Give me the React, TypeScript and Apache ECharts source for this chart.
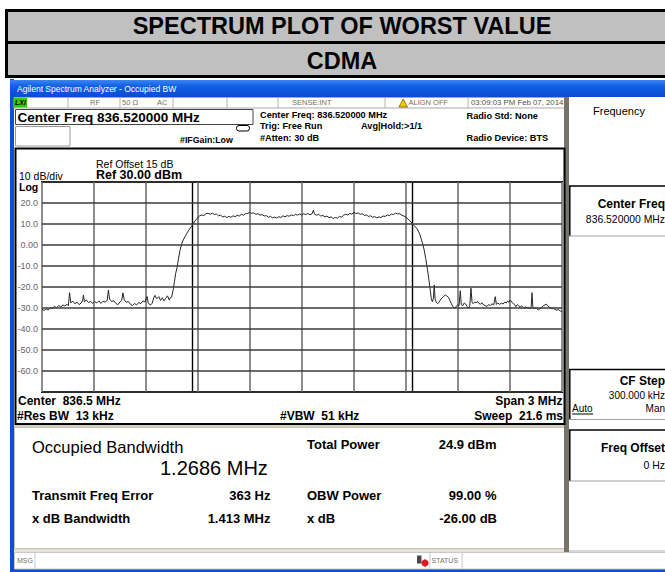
import React, { useEffect, useRef } from "react";
import * as echarts from "echarts";

// ---------- data ----------
const titleRows = ["SPECTRUM PLOT OF WORST VALUE", "CDMA"];
const centerFreqMHz = 836.52;
const spanMHz = 3;
const refLevel = 30;
const dbPerDiv = 10;
const yTickLabels = ["20.0", "10.0", "0.00", "-10.0", "-20.0", "-30.0", "-40.0", "-50.0", "-60.0"];
const obwMHz = 1.2686;
const freqErrorHz = 363;

// trace: [offset from centre (MHz), level (dBm)]
const traceLowNoise: [number, number][] = [
  [-1.5, -30.6], [-1.488, -31.2], [-1.476, -30.4], [-1.464, -31.0], [-1.452, -29.8], [-1.44, -30.3],
  [-1.428, -29.2], [-1.416, -29.9], [-1.404, -28.8], [-1.392, -29.5], [-1.38, -28.6], [-1.368, -29.0],
  [-1.356, -28.2], [-1.348, -28.9], [-1.341, -22.7], [-1.334, -27.5], [-1.322, -26.8], [-1.31, -28.0],
  [-1.298, -27.2], [-1.286, -28.4], [-1.274, -27.6], [-1.266, -26.5], [-1.261, -23.8], [-1.256, -27.0],
  [-1.244, -26.2], [-1.232, -27.4], [-1.22, -26.8], [-1.208, -27.9], [-1.196, -26.9], [-1.184, -27.6],
  [-1.172, -26.6], [-1.16, -27.8], [-1.148, -26.8], [-1.136, -27.2], [-1.124, -26.4], [-1.117, -21.4],
  [-1.11, -25.8], [-1.098, -27.0], [-1.086, -26.5], [-1.074, -27.8], [-1.062, -28.4], [-1.05, -27.1],
  [-1.04, -26.3], [-1.033, -22.8], [-1.026, -26.0], [-1.014, -27.3], [-1.002, -26.9], [-0.99, -28.2],
  [-0.978, -28.8], [-0.966, -27.9], [-0.954, -28.5], [-0.942, -27.4], [-0.93, -27.9], [-0.918, -26.6],
  [-0.906, -27.1], [-0.894, -24.5], [-0.888, -27.5], [-0.876, -28.6], [-0.864, -27.8], [-0.856, -25.2],
  [-0.848, -24.0], [-0.838, -25.6], [-0.826, -24.6], [-0.816, -26.4], [-0.806, -25.1], [-0.796, -26.6],
  [-0.786, -25.4], [-0.776, -24.2], [-0.766, -26.2], [-0.758, -25.0], [-0.752, -24.8],
];
const traceLowSkirt: [number, number][] = [
  [-0.743, -21.2], [-0.736, -17.5], [-0.729, -13.6], [-0.721, -10.8], [-0.713, -6.8], [-0.704, -2.6],
  [-0.694, 0.6], [-0.683, 2.8], [-0.672, 4.4], [-0.66, 6.2], [-0.648, 7.7], [-0.636, 9.0], [-0.626, 10.4],
];
const traceChannel: [number, number][] = [
  [-0.616, 11.6], [-0.6, 13.2], [-0.59, 13.9], [-0.578, 14.3], [-0.566, 14.0], [-0.554, 14.9], [-0.542, 15.1],
  [-0.53, 14.6], [-0.518, 15.2], [-0.506, 14.5], [-0.494, 14.8], [-0.482, 13.9], [-0.47, 14.2], [-0.458, 13.4],
  [-0.446, 13.7], [-0.434, 13.1], [-0.422, 13.6], [-0.41, 13.2], [-0.398, 13.9], [-0.386, 13.5], [-0.374, 14.1],
  [-0.362, 13.8], [-0.35, 14.6], [-0.338, 14.2], [-0.326, 14.9], [-0.314, 15.0], [-0.302, 15.5], [-0.29, 15.1],
  [-0.278, 15.3], [-0.266, 14.6], [-0.254, 14.9], [-0.242, 14.2], [-0.23, 14.5], [-0.218, 13.8], [-0.206, 14.0],
  [-0.194, 13.2], [-0.182, 13.6], [-0.17, 12.9], [-0.158, 13.3], [-0.146, 12.8], [-0.134, 13.5], [-0.122, 13.1],
  [-0.11, 13.9], [-0.098, 13.4], [-0.086, 14.0], [-0.074, 13.7], [-0.062, 14.3], [-0.05, 14.0], [-0.038, 14.6],
  [-0.026, 14.2], [-0.014, 14.8], [-0.002, 14.4], [0.01, 14.9], [0.022, 14.5], [0.034, 15.0], [0.046, 14.4],
  [0.058, 14.9], [0.066, 16.6], [0.072, 14.7], [0.084, 14.2], [0.096, 14.6], [0.108, 13.8], [0.12, 14.1],
  [0.132, 13.4], [0.144, 13.8], [0.156, 13.0], [0.168, 13.4], [0.18, 12.6], [0.192, 13.1], [0.204, 12.8],
  [0.216, 13.6], [0.228, 13.3], [0.24, 14.2], [0.252, 14.6], [0.264, 14.3], [0.276, 15.0], [0.288, 14.7],
  [0.3, 15.5], [0.312, 15.0], [0.324, 15.3], [0.336, 14.6], [0.348, 14.9], [0.36, 14.1], [0.372, 14.3],
  [0.384, 13.6], [0.396, 13.9], [0.408, 13.2], [0.42, 13.5], [0.432, 12.9], [0.444, 13.4], [0.456, 13.1],
  [0.468, 13.8], [0.48, 13.6], [0.492, 14.3], [0.504, 14.0], [0.516, 14.7], [0.528, 14.5], [0.54, 15.2],
  [0.552, 14.8], [0.564, 14.9], [0.576, 14.2], [0.588, 13.8], [0.6, 13.2], [0.612, 12.3], [0.624, 11.4],
];
const traceHighSkirt: [number, number][] = [
  [0.636, 10.3], [0.648, 9.2], [0.665, 7.6], [0.68, 5.0], [0.694, 1.2], [0.704, -2.0], [0.714, -6.5],
  [0.724, -11.8], [0.732, -16.5], [0.74, -21.6],
];
const traceHighNoise: [number, number][] = [
  [0.746, -25.6], [0.752, -27.0], [0.758, -25.4], [0.763, -19.0], [0.768, -25.8], [0.774, -27.2], [0.782, -27.9],
  [0.79, -27.4], [0.798, -26.3], [0.808, -25.2], [0.818, -24.4], [0.827, -23.8], [0.836, -24.3], [0.846, -25.0],
  [0.854, -26.6], [0.862, -28.0], [0.87, -29.2], [0.879, -30.1], [0.888, -29.4], [0.898, -28.6], [0.906, -28.9],
  [0.913, -21.8], [0.919, -28.4], [0.928, -28.9], [0.936, -27.6], [0.944, -28.1], [0.952, -29.2], [0.961, -30.1],
  [0.968, -28.7], [0.975, -20.6], [0.981, -27.4], [0.988, -27.9], [0.996, -27.1], [1.004, -27.6], [1.012, -26.9],
  [1.02, -27.8], [1.03, -28.2], [1.038, -27.5], [1.048, -28.6], [1.058, -28.9], [1.067, -29.3], [1.076, -28.4],
  [1.086, -28.8], [1.096, -28.0], [1.106, -28.5], [1.115, -24.6], [1.121, -28.2], [1.13, -27.6], [1.14, -28.3],
  [1.15, -27.7], [1.16, -28.1], [1.17, -27.2], [1.178, -27.6], [1.186, -26.7], [1.194, -27.3], [1.202, -26.2],
  [1.21, -27.1], [1.218, -27.9], [1.226, -28.3], [1.234, -29.4], [1.242, -28.4], [1.25, -28.8], [1.258, -29.8],
  [1.266, -28.9], [1.274, -29.5], [1.282, -30.2], [1.29, -29.3], [1.298, -30.0], [1.307, -29.7], [1.316, -30.4],
  [1.322, -29.5], [1.327, -22.7], [1.332, -29.9], [1.34, -30.3], [1.35, -29.8], [1.358, -30.6], [1.365, -31.0],
  [1.374, -30.2], [1.385, -29.6], [1.394, -28.8], [1.402, -28.6], [1.409, -28.1], [1.418, -29.0], [1.426, -29.6],
  [1.433, -29.9], [1.442, -30.4], [1.45, -30.1], [1.461, -30.7], [1.47, -31.0], [1.48, -30.8], [1.49, -31.4],
  [1.5, -31.7],
];

// ---------- helpers ----------
const FF = "'Liberation Sans', Arial, sans-serif";

function txt(x: number, y: number, s: string, size: number, opts: any = {}) {
  return {
    type: "text",
    z: 50,
    silent: true,
    style: {
      x,
      y,
      text: s,
      fill: opts.fill || "#000",
      font: `${opts.italic ? "italic " : ""}${opts.bold ? "bold " : ""}${size}px ${FF}`,
      textAlign: opts.align || "left",
      textVerticalAlign: "middle",
    },
  };
}
function box(x: number, y: number, w: number, h: number, fill: any, stroke?: string, lw = 1, z = 1) {
  return {
    type: "rect",
    z,
    silent: true,
    shape: { x, y, width: w, height: h },
    style: { fill, stroke: stroke || null, lineWidth: stroke ? lw : 0 },
  };
}
function ln(x1: number, y1: number, x2: number, y2: number, stroke: string, lw = 1, z = 3) {
  return { type: "line", z, silent: true, shape: { x1, y1, x2, y2 }, style: { stroke, lineWidth: lw } };
}

export default function App() {
  const ref = useRef<HTMLDivElement>(null);
  useEffect(() => {
    const chart = echarts.init(ref.current!, null, { renderer: "svg" });
    const trace = [...traceLowNoise, ...traceLowSkirt, ...traceChannel, ...traceHighSkirt, ...traceHighNoise];
    const halfSpanKHz = (spanMHz / 2) * 1000;
    const obwEdgeKHz = (obwMHz / 2) * 1000;
    const errKHz = freqErrorHz / 1000;
    const titleGrad = new echarts.graphic.LinearGradient(0, 0, 0, 1, [
      { offset: 0, color: "#3a86f2" },
      { offset: 0.35, color: "#1260e6" },
      { offset: 1, color: "#0a4bd0" },
    ]);

    const graphic: any[] = [
      // title table
      box(5, 9, 660, 69, "#000", undefined, 0, 0),
      box(8, 12, 657, 29, "#c0c0c0", undefined, 0, 1),
      box(8, 44, 657, 31, "#c0c0c0", undefined, 0, 1),
      txt(342, 26, titleRows[0], 23.5, { bold: true, align: "center" }),
      txt(342, 60.5, titleRows[1], 23.5, { bold: true, align: "center" }),

      // analyzer window frame
      box(10, 79, 4, 493, "#0c4fd6", undefined, 0, 1),
      box(10, 80, 655, 17, titleGrad, undefined, 0, 1),
      box(10, 569, 655, 3, "#0c4fd6", undefined, 0, 1),
      txt(17, 88.5, "Agilent Spectrum Analyzer - Occupied BW", 8.5, { fill: "#ffffff" }),

      // status row
      box(14, 97.5, 552, 10.5, "#ffffff", "#a8a8a8", 1, 1),
      ln(68, 98, 68, 108, "#b4b4b4"),
      ln(120, 98, 120, 108, "#b4b4b4"),
      ln(173, 98, 173, 108, "#b4b4b4"),
      ln(227, 98, 227, 108, "#b4b4b4"),
      ln(278, 98, 278, 108, "#b4b4b4"),
      ln(385, 98, 385, 108, "#b4b4b4"),
      ln(468, 98, 468, 108, "#b4b4b4"),
      box(14, 98, 13, 9.5, "#33cc00", undefined, 0, 2),
      txt(15, 102.8, "LXI", 7, { bold: true, italic: true }),
      txt(95, 102.8, "RF", 7.5, { fill: "#707070", align: "center" }),
      txt(122, 102.8, "50 Ω", 7.5, { fill: "#707070" }),
      txt(157, 102.8, "AC", 7.5, { fill: "#707070" }),
      txt(292, 102.8, "SENSE:INT", 7.5, { fill: "#707070" }),
      {
        type: "polygon",
        z: 4,
        silent: true,
        shape: { points: [[399, 107], [407.5, 107], [403.2, 99]] },
        style: { fill: "#f2cc00", stroke: "#7a5c00", lineWidth: 0.8 },
      },
      txt(408.5, 102.8, "ALIGN OFF", 7.5, { fill: "#707070" }),
      txt(471, 102.8, "03:09:03 PM Feb 07, 2014", 7.8, { fill: "#505050" }),

      // header block
      box(15.5, 109.5, 237.5, 15, "#ffffff", "#444444", 1, 2),
      txt(17.5, 117.5, "Center Freq 836.520000 MHz", 13.5, { bold: true }),
      box(15.5, 126.5, 54.5, 19.5, "#ffffff", "#9a9a9a", 1, 2),
      txt(180, 139.5, "#IFGain:Low", 8.8, { bold: true }),
      {
        type: "rect",
        z: 4,
        silent: true,
        shape: { x: 236.5, y: 125.5, width: 13, height: 5.5, r: 2.5 },
        style: { fill: "none", stroke: "#000", lineWidth: 1 },
      },
      txt(260, 114.8, "Center Freq: 836.520000 MHz", 9.2, { bold: true }),
      txt(260, 125.8, "Trig: Free Run", 9.2, { bold: true }),
      txt(260, 137.8, "#Atten: 30 dB", 9.2, { bold: true }),
      txt(361, 125.8, "Avg|Hold:>1/1", 9.2, { bold: true }),
      txt(466.5, 115.5, "Radio Std: None", 9.2, { bold: true }),
      txt(466.5, 138, "Radio Device: BTS", 9.2, { bold: true }),

      // plot section frame
      box(15.5, 148.5, 549, 275.5, "none", "#000000", 2, 2),
      txt(96, 163.5, "Ref Offset 15 dB", 10.5),
      txt(96, 175, `Ref ${refLevel.toFixed(2)} dBm`, 12.5, { bold: true }),
      txt(19, 176, `${dbPerDiv} dB/div`, 10.5),
      txt(19, 187, "Log", 10.5, { bold: true }),
      txt(18, 401, `Center  ${centerFreqMHz.toFixed(1)} MHz`, 12, { bold: true }),
      txt(17, 415.5, "#Res BW  13 kHz", 12, { bold: true }),
      txt(280, 415.5, "#VBW  51 kHz", 12, { bold: true }),
      txt(562.5, 401, `Span ${spanMHz} MHz`, 12, { bold: true, align: "right" }),
      txt(563, 415.5, "Sweep  21.6 ms", 12, { bold: true, align: "right" }),

      // lower result panel
      box(14, 424.5, 552, 3, "#d4d0c4", undefined, 0, 1),
      box(14.5, 427.5, 551, 121, "#ffffff", "#c4c0b0", 1, 1),
      txt(32, 447, "Occupied Bandwidth", 16.5),
      txt(160, 467.5, `${obwMHz.toFixed(4)} MHz`, 20),
      txt(307, 444.5, "Total Power", 13, { bold: true }),
      txt(496.5, 444.5, "24.9 dBm", 13, { bold: true, align: "right" }),
      txt(32, 495.5, "Transmit Freq Error", 13, { bold: true }),
      txt(270.5, 495.5, `${freqErrorHz} Hz`, 13, { bold: true, align: "right" }),
      txt(307, 495.5, "OBW Power", 13, { bold: true }),
      txt(496.5, 495.5, "99.00 %", 13, { bold: true, align: "right" }),
      txt(32, 518.5, "x dB Bandwidth", 13, { bold: true }),
      txt(270.5, 518.5, "1.413 MHz", 13, { bold: true, align: "right" }),
      txt(307, 518.5, "x dB", 13, { bold: true }),
      txt(497, 518.5, "-26.00 dB", 13, { bold: true, align: "right" }),

      // status bar
      box(14, 549, 651, 3, "#e4e1d6", undefined, 0, 1),
      box(14.5, 552.5, 651, 16.5, "#ffffff", "#c8c8c8", 1, 1),
      ln(35, 553, 35, 569, "#c8c8c8"),
      ln(430, 553, 430, 569, "#c8c8c8"),
      ln(462, 553, 462, 569, "#c8c8c8"),
      txt(17, 560.8, "MSG", 7, { fill: "#707070" }),
      box(417, 555.5, 4.5, 8, "#4a4a4a", undefined, 0, 4),
      { type: "circle", z: 5, silent: true, shape: { cx: 425, cy: 563, r: 3.6 }, style: { fill: "#e2161b" } },
      txt(431.5, 560.8, "STATUS", 7, { fill: "#707070" }),

      // right soft-key panel
      box(564, 97, 5, 455, "#77746a", undefined, 0, 1),
      box(569, 97, 96, 455, "#ffffff", undefined, 0, 1),
      txt(619, 111, "Frequency", 11, { align: "center" }),
      ln(569, 186, 665, 186, "#000", 1.5),
      ln(569.8, 186, 569.8, 236, "#000", 1.5),
      ln(569, 236, 665, 236, "#a0a0a0", 1),
      txt(665, 203.5, "Center Freq", 12, { bold: true, align: "right" }),
      txt(665, 219.5, "836.520000 MHz", 10.4, { align: "right" }),
      ln(569, 369.5, 665, 369.5, "#000", 1.5),
      ln(569.8, 369.5, 569.8, 419.5, "#000", 1.5),
      ln(569, 419.5, 665, 419.5, "#a0a0a0", 1),
      txt(665, 380.5, "CF Step", 12, { bold: true, align: "right" }),
      txt(665, 395, "300.000 kHz", 10, { align: "right" }),
      txt(572, 408.5, "Auto", 10),
      ln(572, 414, 593, 414, "#000", 1),
      txt(665, 408.5, "Man", 10, { align: "right" }),
      ln(569, 430, 665, 430, "#000", 1.5),
      ln(569.8, 430, 569.8, 481, "#000", 1.5),
      ln(569, 481, 665, 481, "#a0a0a0", 1),
      txt(665, 447.5, "Freq Offset", 12, { bold: true, align: "right" }),
      txt(665, 464.5, "0 Hz", 10.5, { align: "right" }),
      ln(569, 551, 665, 551, "#b0b0b0", 1),
    ];

    const option: any = {
      animation: false,
      backgroundColor: "#ffffff",
      grid: {
        left: 42,
        top: 182,
        width: 520,
        height: 210,
        show: true,
        borderColor: "#000",
        borderWidth: 2,
        backgroundColor: "transparent",
        containLabel: false,
      },
      xAxis: {
        type: "value",
        min: -halfSpanKHz,
        max: halfSpanKHz,
        interval: (spanMHz * 1000) / 10,
        axisLabel: { show: false },
        axisTick: { show: false },
        axisLine: { show: false },
        splitLine: { show: true, lineStyle: { color: "#8e8e8e", width: 2 } },
      },
      yAxis: {
        type: "value",
        min: refLevel - 10 * dbPerDiv,
        max: refLevel,
        interval: dbPerDiv,
        z: 10,
        axisLabel: {
          color: "#666666",
          fontSize: 9,
          fontFamily: FF,
          margin: 4,
          formatter: (v: number) => {
            const i = Math.round((refLevel - dbPerDiv - v) / dbPerDiv);
            return i >= 0 && i < yTickLabels.length ? yTickLabels[i] : "";
          },
        },
        axisTick: { show: false },
        axisLine: { show: false },
        splitLine: { show: true, lineStyle: { color: "#3c3c3c", width: 1.5 } },
      },
      series: [
        {
          type: "line",
          data: trace.map(([f, v]) => [f * 1000, v]),
          symbol: "none",
          showSymbol: false,
          silent: true,
          lineStyle: { color: "#262626", width: 1 },
          z: 5,
          markLine: {
            silent: true,
            symbol: ["none", "none"],
            label: { show: false },
            lineStyle: { color: "#000", width: 1.4, type: "solid" },
            data: [{ xAxis: -obwEdgeKHz + errKHz }, { xAxis: obwEdgeKHz + errKHz }],
          },
        },
      ],
      graphic,
    };
    chart.setOption(option);
    return () => chart.dispose();
  }, []);
  return (
    <div
      ref={ref}
      style={{ position: "fixed", left: 0, top: 0, width: 665, height: 572, background: "#fff" }}
    />
  );
}
